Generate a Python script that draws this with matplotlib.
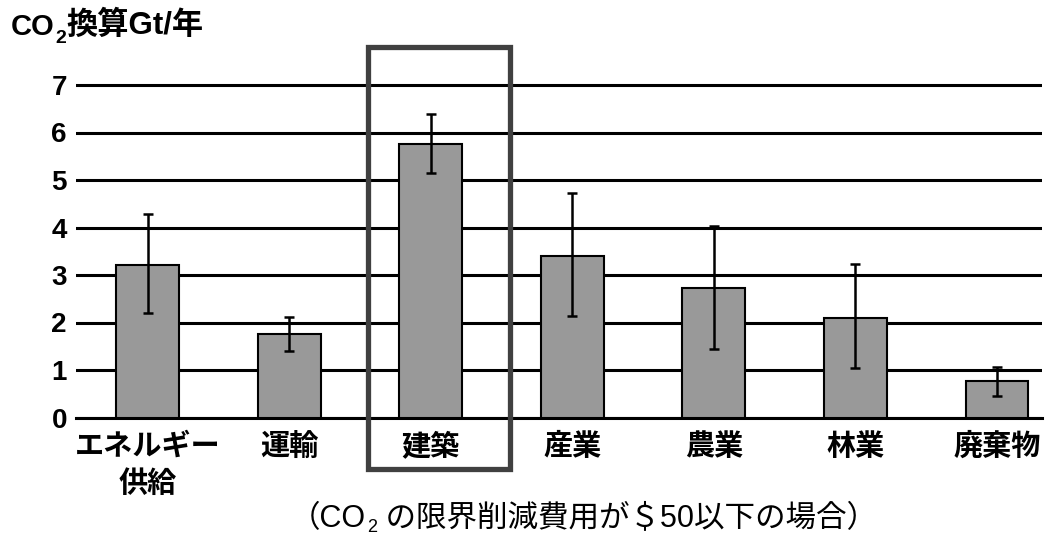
import numpy as np
import matplotlib
matplotlib.use("Agg")
import matplotlib.pyplot as plt
from matplotlib.patches import Rectangle

# ---- data ----
categories = ['エネルギー\n供給', '運輸', '建築', '産業', '農業', '林業', '廃棄物']
values = [3.21, 1.75, 5.75, 3.41, 2.72, 2.09, 0.77]
err_low = [2.21, 1.39, 5.15, 2.14, 1.44, 1.04, 0.46]
err_high = [4.28, 2.12, 6.38, 4.73, 4.03, 3.23, 1.07]
yticks = [0, 1, 2, 3, 4, 5, 6, 7]
highlight_index = 2
ylabel_parts = ['CO', '2', '換算Gt/年']
caption_parts = ['（CO', '2', ' の限界削減費用が＄50以下の場合）']

FAM = ['Liberation Sans', 'Noto Sans CJK JP', 'DejaVu Sans']
plt.rcParams['font.family'] = FAM

fig = plt.figure(figsize=(10.54, 5.40), dpi=100)
ax = fig.add_axes([76 / 1054, (540 - 417.5) / 540, 966 / 1054, 342 / 540])

x = np.arange(len(categories))
vals = np.array(values)
yerr = np.vstack([vals - np.array(err_low), np.array(err_high) - vals])

ax.bar(x, vals, width=0.444, color='#999999', edgecolor='black', linewidth=1.5, zorder=3)
ax.errorbar(x, vals, yerr=yerr, fmt='none', ecolor='black', elinewidth=1.8,
            capsize=3.8, capthick=1.8, zorder=4)

ax.set_xlim(-0.506, 6.318)
ax.set_ylim(0, 7.2)
ax.set_yticks(yticks)
ax.set_yticklabels([str(t) for t in yticks], fontsize=20, fontweight='bold')
ax.set_xticks(x)
ax.set_xticklabels(categories, fontsize=21, fontweight='bold', linespacing=1.4)
ax.tick_params(axis='both', length=0)
ax.tick_params(axis='y', pad=6.5)
ax.tick_params(axis='x', pad=11)

ax.yaxis.grid(True, color='black', linewidth=2.2, zorder=0)
ax.set_axisbelow(True)
for s in ['top', 'left', 'right']:
    ax.spines[s].set_visible(False)
ax.spines['bottom'].set_color('black')
ax.spines['bottom'].set_linewidth(2.2)
ax.spines['bottom'].set_zorder(2)

# highlight box around 建築
hx = highlight_index
rect = Rectangle((hx - 0.446, -1.084), 1.006, 7.81 + 1.084, fill=False,
                 edgecolor='#404040', linewidth=3.8, clip_on=False, zorder=5)
ax.add_patch(rect)

# y-axis title: CO2換算Gt/年
t1 = fig.text(11 / 1054, 1 - 35 / 540, ylabel_parts[0], fontsize=21, fontweight='bold',
              ha='left', va='baseline')
t2 = ax.annotate(ylabel_parts[1], xy=(1, 0), xycoords=t1, xytext=(0.3, -1.5),
                 textcoords='offset points', fontsize=14, fontweight='bold',
                 ha='left', va='baseline', annotation_clip=False)
t3 = ax.annotate(ylabel_parts[2], xy=(1, 0), xycoords=(t2, t1), xytext=(0, 0),
                 textcoords='offset points', fontsize=22.5, fontweight='bold',
                 ha='left', va='bottom', annotation_clip=False)

# caption
c1 = fig.text(290 / 1054, 1 - 527 / 540, caption_parts[0], fontsize=22,
              ha='left', va='baseline')
c2 = ax.annotate(caption_parts[1], xy=(1, 0), xycoords=c1, xytext=(0.5, 1.5),
                 textcoords='offset points', fontsize=13,
                 ha='left', va='baseline', annotation_clip=False)
c3 = ax.annotate(caption_parts[2], xy=(1, 0), xycoords=(c2, c1), xytext=(0, 0),
                 textcoords='offset points', fontsize=22,
                 ha='left', va='bottom', annotation_clip=False)

fig.savefig('out.png', dpi=100)
